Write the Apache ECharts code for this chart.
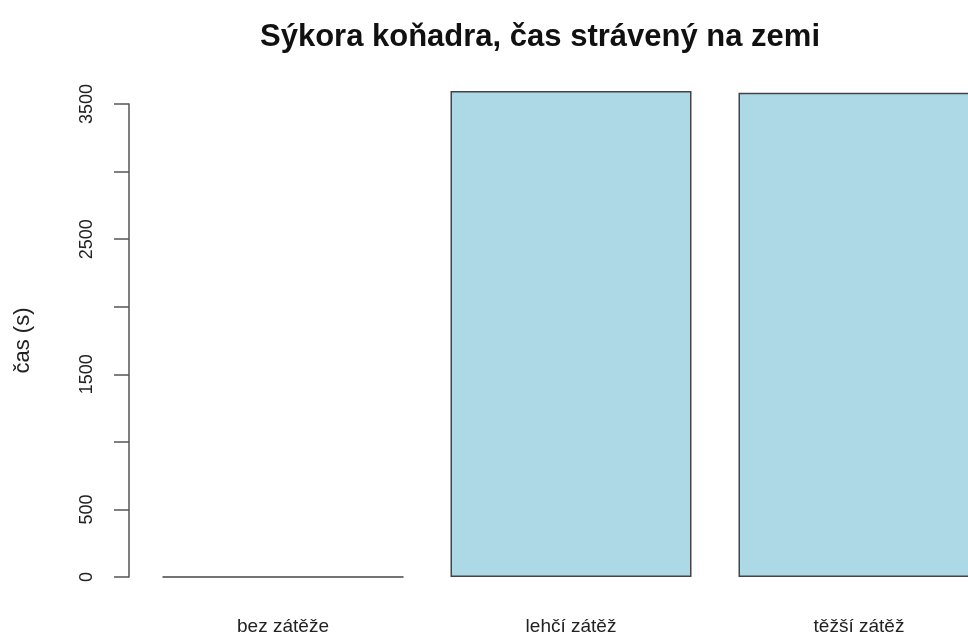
<!DOCTYPE html>
<html>
<head>
<meta charset="utf-8">
<script src="https://cdn.jsdelivr.net/npm/echarts@6/dist/echarts.min.js"></script>
<style>
  html, body { margin: 0; padding: 0; background: #fff; overflow: hidden; }
  /* plot region runs past the right edge of the window, as in the original */
  #main { width: 1003px; height: 638px; }
</style>
</head>
<body>
<div id="main"></div>
<script>
var categories = ['bez zátěže', 'lehčí zátěž', 'těžší zátěž'];
var times = [0, 3597, 3583];
var yTicks = [0, 500, 1000, 1500, 2000, 2500, 3000, 3500];
var yTickLabels = ['0', '500', '', '1500', '', '2500', '', '3500'];

var chartDom = document.getElementById('main');
var myChart = echarts.init(chartDom);

var option = {
  backgroundColor: '#fff',
  animation: false,
  title: {
    text: 'Sýkora koňadra, čas strávený na zemi',
    left: 535,
    top: 17,
    textAlign: 'center',
    textStyle: {
      fontFamily: 'Liberation Sans',
      fontSize: 31,
      fontWeight: 'bold',
      color: '#111'
    }
  },
  grid: {
    left: 139,
    top: 104,
    right: 0,
    bottom: 61,
    containLabel: false
  },
  xAxis: {
    type: 'category',
    data: categories,
    axisLine: { show: false },
    axisTick: { show: false },
    axisLabel: {
      margin: 40,
      fontFamily: 'Liberation Sans',
      fontSize: 19,
      color: '#222'
    }
  },
  yAxis: {
    type: 'value',
    min: 0,
    max: 3500,
    interval: 500,
    offset: 10,
    name: 'čas (s)',
    nameLocation: 'middle',
    nameRotate: 90,
    nameGap: 95,
    nameTextStyle: {
      fontFamily: 'Liberation Sans',
      fontSize: 22,
      color: '#222'
    },
    splitLine: { show: false },
    axisLine: { show: true, lineStyle: { color: '#555', width: 1.5 } },
    axisTick: { show: true, length: 15, lineStyle: { color: '#555', width: 1.5 } },
    axisLabel: {
      rotate: 90,
      margin: 33,
      fontFamily: 'Liberation Sans',
      fontSize: 18,
      color: '#222',
      formatter: function (v) {
        var i = yTicks.indexOf(v);
        return i < 0 ? '' : yTickLabels[i];
      }
    }
  },
  series: [
    {
      type: 'bar',
      data: times,
      clip: false,
      barWidth: 241,
      itemStyle: {
        color: '#ADD8E6',
        borderColor: '#444',
        borderWidth: 1.5
      }
    }
  ]
};

myChart.setOption(option);
window.addEventListener('resize', myChart.resize);
</script>
</body>
</html>
